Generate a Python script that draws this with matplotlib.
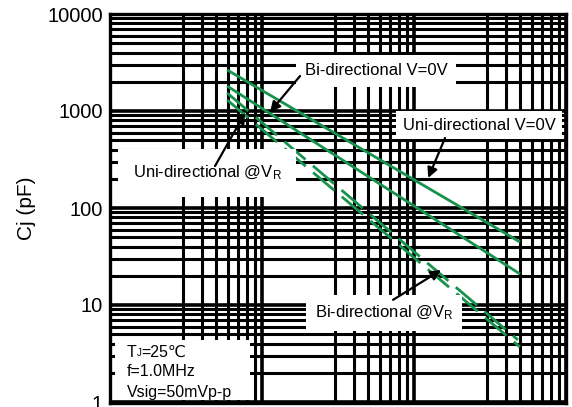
import matplotlib
matplotlib.use("Agg")
import matplotlib.pyplot as plt
from matplotlib.ticker import LogLocator, NullFormatter, FixedLocator, FixedFormatter
from matplotlib.patches import Rectangle

plt.rcParams['font.family'] = ['Liberation Sans', 'DejaVu Sans']
plt.rcParams['mathtext.fontset'] = 'custom'
plt.rcParams['mathtext.rm'] = 'Liberation Sans'
plt.rcParams['mathtext.it'] = 'Liberation Sans:italic'

# ---- data ----
voltage_ends = [5.9, 498]            # breakdown voltage span of every curve
uni_v0 = [2650, 44.6]                # Uni-directional V=0V
bi_v0 = [1810, 20.9]                 # Bi-directional V=0V
uni_vr_voltage = [5.9, 483]
uni_vr = [1534, 4.36]                # Uni-directional @VR
bi_vr = [1298, 3.69]                 # Bi-directional @VR

y_ticks = [1, 10, 100, 1000, 10000]
y_tick_labels = ['1', '10', '100', '1000', '10000']

GREEN = '#16924c'

fig = plt.figure(figsize=(5.72, 4.07), dpi=100)
ax = fig.add_axes([110/572, 1-403/407, 456/572, 389/407])
ax.set_xscale('log')
ax.set_yscale('log')
ax.set_xlim(1, 1000)
ax.set_ylim(10**(-1/97), 10**(388/97))

# grid
ax.xaxis.set_major_locator(LogLocator(base=10, subs=(1.0,)))
ax.xaxis.set_minor_locator(LogLocator(base=10, subs=(3, 4, 5, 6, 7, 8, 9)))
ax.yaxis.set_major_locator(FixedLocator(y_ticks))
ax.yaxis.set_major_formatter(FixedFormatter(y_tick_labels))
ax.yaxis.set_minor_locator(LogLocator(base=10, subs=(2, 3, 4, 5, 6, 7, 8, 9)))
ax.xaxis.set_major_formatter(NullFormatter())
ax.xaxis.set_minor_formatter(NullFormatter())
ax.yaxis.set_minor_formatter(NullFormatter())
ax.grid(True, which='major', color='black', linewidth=2.6)
ax.grid(True, which='minor', color='black', linewidth=2.2)
ax.set_axisbelow(True)
ax.tick_params(which='both', length=0)
ax.tick_params(axis='y', labelsize=14.5, pad=5)
for s in ax.spines.values():
    s.set_linewidth(2.4)
    s.set_color('black')

# curves
ax.plot(voltage_ends, uni_v0, color=GREEN, lw=2.0, solid_capstyle='butt', zorder=3)
ax.plot(voltage_ends, bi_v0, color=GREEN, lw=2.0, solid_capstyle='butt', zorder=3)
ax.plot(uni_vr_voltage, uni_vr, color=GREEN, lw=2.0, dashes=(10, 3.5), zorder=3)
ax.plot(voltage_ends, bi_vr, color=GREEN, lw=2.0, dashes=(10, 3.5), zorder=3)

ax.set_ylabel('Cj (pF)', fontsize=15, labelpad=8)

# labels with white boxes
fs = 12
ax.text(56.2, 2585, 'Bi-directional V=0V', fontsize=fs, ha='center', va='center',
        bbox=dict(boxstyle='square,pad=0.5', fc='white', ec='none'), zorder=5)
ax.text(268, 717, 'Uni-directional V=0V', fontsize=fs, ha='center', va='center',
        bbox=dict(boxstyle='square,pad=0.4', fc='white', ec='none'), zorder=5)
ax.text(4.35, 229.6, 'Uni-directional @V$_\\mathregular{R}$', fontsize=fs, ha='center', va='center',
        bbox=dict(boxstyle='square,pad=0.9', fc='white', ec='none'), zorder=5)
ax.text(63.5, 8.27, 'Bi-directional @V$_\\mathregular{R}$', fontsize=fs, ha='center', va='center',
        bbox=dict(boxstyle='square,pad=0.5', fc='white', ec='none'), zorder=5)

arrow = dict(arrowstyle='-|>,head_length=0.6,head_width=0.3', color='black', lw=1.6,
             shrinkA=0, shrinkB=0)
ax.annotate('', xy=(11.3, 977), xytext=(17.8, 2296), arrowprops=arrow, zorder=6)
ax.annotate('', xy=(124, 204), xytext=(160, 527), arrowprops=arrow, zorder=6)
ax.annotate('', xy=(7.73, 953), xytext=(4.91, 271), arrowprops=arrow, zorder=6)
ax.annotate('', xy=(150.6, 22.9), xytext=(72.8, 11.3), arrowprops=arrow, zorder=6)

# condition box
ax.add_patch(Rectangle((5/456, 3/389), 135/456, 60/389, transform=ax.transAxes,
                       fc='white', ec='none', zorder=4))
cond_fs = 11.5
t_main = ax.text(0.037, 0.131, 'T', transform=ax.transAxes, fontsize=cond_fs,
                 va='center', ha='left', zorder=5)
t_sub = ax.annotate('J', xy=(1, 0.12), xycoords=t_main, fontsize=7,
                    va='bottom', ha='left', zorder=5)
ax.annotate('=25\u2103', xy=(1.0, 0.0), xycoords=(t_sub, t_main), fontsize=cond_fs,
            va='bottom', ha='left', zorder=5,
            annotation_clip=False)
ax.text(0.037, 0.080, 'f=1.0MHz', transform=ax.transAxes, fontsize=cond_fs,
        va='center', ha='left', zorder=5)
ax.text(0.037, 0.028, 'Vsig=50mVp-p', transform=ax.transAxes, fontsize=cond_fs,
        va='center', ha='left', zorder=5)

fig.savefig('out.png', dpi=100)
